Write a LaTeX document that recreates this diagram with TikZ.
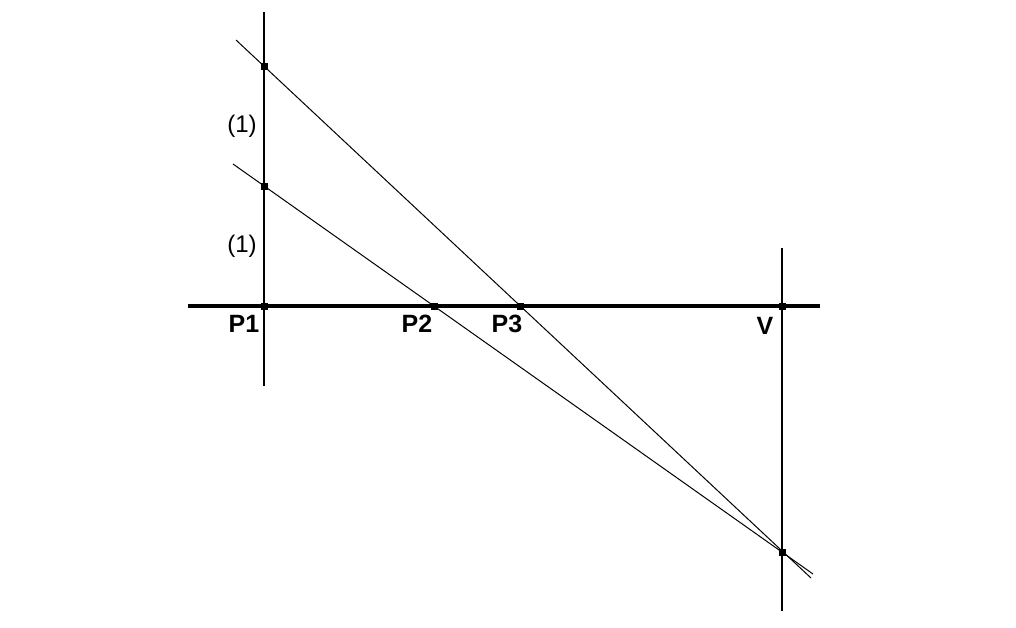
\documentclass[tikz,border=0pt]{standalone}
\usepackage{fontspec}
\setmainfont{Liberation Sans}
\begin{document}
\begin{tikzpicture}[x=0.5pt,y=-0.5pt,
  thinline/.style={line width=0.5pt},
  axis/.style={line width=0.8pt},
  baseline/.style={line width=1.6pt},
  pt/.style={fill=black,minimum size=3.5pt,inner sep=0pt,outer sep=0pt},
  lbl/.style={font=\fontsize{12.5}{14}\selectfont\bfseries,anchor=base,inner sep=0pt},
  seg/.style={font=\fontsize{12}{14}\selectfont,anchor=base,inner sep=0pt}]
\useasboundingbox[fill=white] (0,0) rectangle (1016,627);
% coordinates
\coordinate (A1) at (236,40);
\coordinate (A2) at (811,578);
\coordinate (B1) at (233,164);
\coordinate (B2) at (813,574);
\coordinate (H1) at (188,306);
\coordinate (H2) at (820,306);
\coordinate (L1) at (264,12);
\coordinate (L2) at (264,386);
\coordinate (R1) at (782,248);
\coordinate (R2) at (782,611);
% lines
\draw[axis] (L1) -- (L2);
\draw[axis] (R1) -- (R2);
\draw[baseline] (H1) -- (H2);
\draw[thinline] (A1) -- (A2);
\draw[thinline] (B1) -- (B2);
% points
\node[pt] (q1) at (264,66) {};
\node[pt] (q2) at (264,186) {};
\node[pt] (p1) at (264,306) {};
\node[pt] (p2) at (434,306) {};
\node[pt] (p3) at (520,306) {};
\node[pt] (v) at (782,306) {};
\node[pt] (w) at (782,552) {};
% labels
\node[lbl] (t1) at (244,332) {P1};
\node[lbl] (t2) at (417,332) {P2};
\node[lbl] (t3) at (507,332) {P3};
\node[lbl] (t4) at (765,334) {V};
\node[seg] (s1) at (242,132) {(1)};
\node[seg] (s2) at (242,252) {(1)};
\end{tikzpicture}
\end{document}
